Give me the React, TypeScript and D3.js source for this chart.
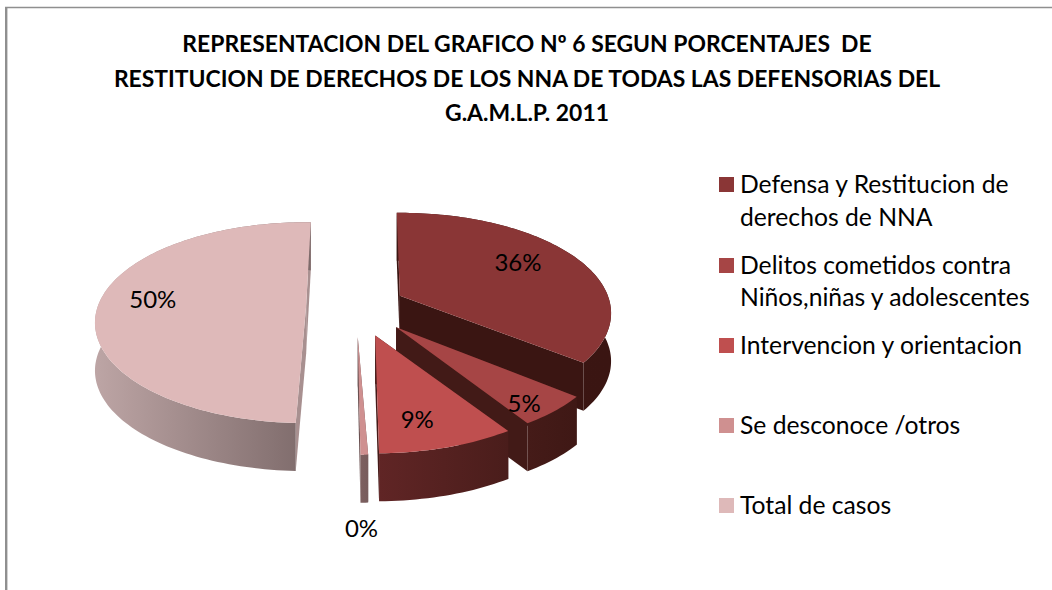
import React from "react";
import * as d3 from "d3";

const titleLines = [
  "REPRESENTACION DEL GRAFICO Nº 6 SEGUN PORCENTAJES  DE",
  "RESTITUCION DE DERECHOS DE LOS NNA DE TODAS LAS DEFENSORIAS DEL",
  "G.A.M.L.P. 2011",
];
const categories = [
  "Defensa y Restitucion de derechos de NNA",
  "Delitos cometidos contra Niños,niñas y adolescentes",
  "Intervencion y orientacion",
  "Se desconoce /otros",
  "Total de casos",
];
const values = [36, 5, 9, 0.49, 50];
const topColors = ["#8a3636", "#a64545", "#bf4f4f", "#cf9090", "#deb9b9"];
const legendLines = [
  ["Defensa y Restitucion de", "derechos de NNA"],
  ["Delitos cometidos contra", "Niños,niñas y adolescentes"],
  ["Intervencion y orientacion"],
  ["Se desconoce /otros"],
  ["Total de casos"],
];
const legendBaselines = [
  [193, 226],
  [274, 306],
  [354],
  [434],
  [514],
];
const rimFrom = ["#3c1613", "#451b18", "#602525", "#7d6060", "#bda5a5"];
const rimTo = ["#3a1512", "#3f1815", "#4a1d1b", "#775c5c", "#7d6a6a"];
const wallColors = ["#3a1512", "#421a17", "#451a18", "#6a5050", "#a89090"];

const explode = [0.24, 0.28, 0.3, 0.3, 0.24];
const sliceRotationDeg = [1.5, 3, 2.5, 1, 4];
const labelNudge: [number, number][] = [
  [8, -7],
  [35, 27],
  [0, 20],
  [0, 124],
  [-25, -4],
];

const FONT = "Lato, Carlito, Calibri, sans-serif";
const CX = 356;
const CY = 306;
const RX = 208;
const RY = 97.4;
const K = 0.174;
const DEPTH = 48;
const START = (-2.5 * Math.PI) / 180;

type P = [number, number];
const project = (X: number, Y: number): P => {
  const w = 1 + K * Y;
  return [(RX * X) / w, -(RY * Y) / w];
};
const line = d3.line<P>();
const down = (p: P): P => [p[0], p[1] + DEPTH];

export default function App() {
  const arcs = d3
    .pie<number>()
    .sort(null)
    .startAngle(START)
    .endAngle(START + 2 * Math.PI)(values);

  const slices = arcs.map((a, i) => {
    const rot = (sliceRotationDeg[i] * Math.PI) / 180;
    const a0 = a.startAngle + rot;
    const a1 = a.endAngle + rot;
    const mid = (a0 + a1) / 2;
    const e = project(Math.sin(mid) * explode[i], Math.cos(mid) * explode[i]);
    const apex: P = [CX + e[0], CY + e[1]];
    const at = (th: number, r: number): P => {
      const p = project(r * Math.sin(th), r * Math.cos(th));
      return [apex[0] + p[0], apex[1] + p[1]];
    };
    const n = Math.max(3, Math.ceil((a1 - a0) * 40));
    const outer = d3.range(n + 1).map((j) => at(a0 + ((a1 - a0) * j) / n, 1));
    const top = line([apex, ...outer])! + "Z";
    const first = outer[0];
    const last = outer[outer.length - 1];
    const wallA = line([apex, first, down(first), down(apex)])! + "Z";
    const wallB = line([apex, last, down(last), down(apex)])! + "Z";
    const rim = line([...outer, ...outer.map(down).reverse()])! + "Z";
    const xs = d3.extent(outer, (p) => p[0]) as [number, number];
    const c = at(mid, 0.62);
    return { i, top, wallA, wallB, rim, xs, label: [c[0] + labelNudge[i][0], c[1] + labelNudge[i][1]] };
  });

  const pct = d3.format(".0%");

  return (
    <svg
      width={1052}
      height={590}
      style={{ position: "absolute", left: 0, top: 0, display: "block", background: "#fff" }}
    >
      <defs>
        {slices.map((s) => (
          <linearGradient
            key={s.i}
            id={`rim${s.i}`}
            gradientUnits="userSpaceOnUse"
            x1={s.xs[0]}
            x2={s.xs[1]}
            y1={0}
            y2={0}
          >
            <stop offset="0" stopColor={rimFrom[s.i]} />
            <stop offset="1" stopColor={rimTo[s.i]} />
          </linearGradient>
        ))}
      </defs>

      <path d="M6.2 590V7" fill="none" stroke="#8f8f8f" strokeWidth={2.4} />
      <path d="M5 7.5H1052" fill="none" stroke="#8f8f8f" strokeWidth={1.4} />

      <g fontFamily={FONT} fontWeight={700} fontSize={22.9} fill="#000" textAnchor="middle">
        {titleLines.map((t, i) => (
          <text key={i} x={527} y={52 + i * 34.5} style={{ whiteSpace: "pre" }}>
            {t}
          </text>
        ))}
      </g>

      {slices.map((s) => (
        <g key={s.i}>
          <path d={s.wallA} fill={wallColors[s.i]} />
          <path d={s.wallB} fill={wallColors[s.i]} />
          <path d={s.rim} fill={`url(#rim${s.i})`} />
          <path d={s.top} fill={topColors[s.i]} />
        </g>
      ))}

      <g fontFamily={FONT} fontSize={24} fill="#000" textAnchor="middle">
        {slices.map((s) => (
          <text key={s.i} x={s.label[0]} y={s.label[1]} dy="0.35em">
            {pct(values[s.i] / 100)}
          </text>
        ))}
      </g>

      <g fontFamily={FONT} fontSize={24.7} fill="#000">
        {categories.map((c, i) => (
          <g key={c}>
            <rect x={719} y={legendBaselines[i][0] - 16} width={15} height={15} fill={topColors[i]} />
            {legendLines[i].map((l, j) => (
              <text key={j} x={740} y={legendBaselines[i][j]}>
                {l}
              </text>
            ))}
          </g>
        ))}
      </g>
    </svg>
  );
}
